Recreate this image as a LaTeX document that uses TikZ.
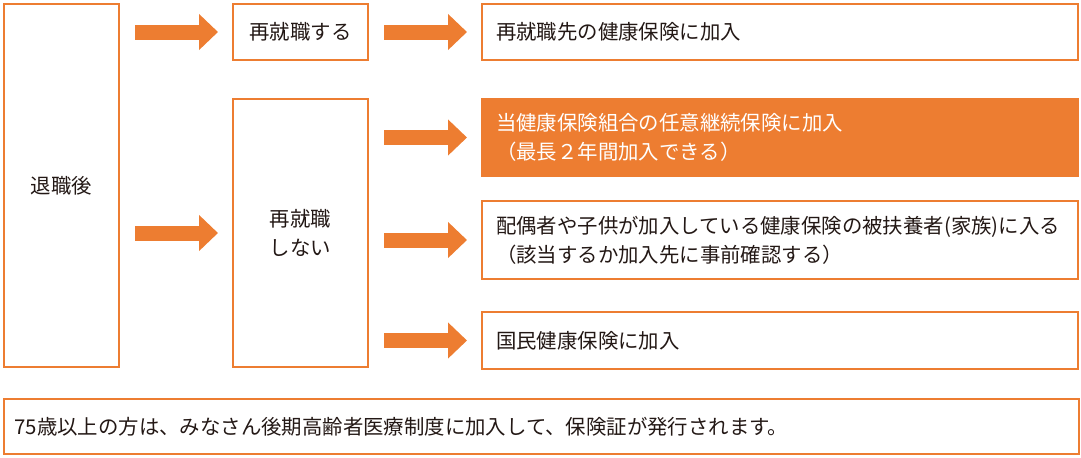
\documentclass[tikz,border=0pt]{standalone}
\usepackage{fontspec}
\setmainfont{Noto Sans CJK JP}
\usetikzlibrary{arrows.meta,positioning,calc}
\definecolor{orng}{RGB}{237,125,49}
\definecolor{txtgray}{RGB}{35,24,21}
\tikzset{
  obox/.style={draw=orng, line width=1pt, rectangle, inner sep=0pt, anchor=north west,
      text=txtgray, font=\fontsize{10.2pt}{14.5pt}\selectfont, align=center},
  rbox/.style={obox, minimum width=298pt, text width=284pt, align=left},
  hbox/.style={rbox, fill=orng, text=white},
  parr/.style={-{Triangle[length=9.5pt,width=17.5pt]}, line width=7.5pt, orng,
      shorten <=7.5pt, shorten >=7pt},
}
\begin{document}
\begin{tikzpicture}[x=0.5pt,y=-0.5pt]
  \useasboundingbox (0,0) rectangle (1081,457);
  % left column
  \node[obox, minimum width=57.5pt, minimum height=181.5pt] (ret) at (3,3) {退職後};
  \node[obox, minimum width=67.5pt, minimum height=28pt] (work) at (232,3) {再就職する};
  \node[obox, minimum width=67.5pt, minimum height=134pt] (nowork) at (232,98)
    {再就職\\しない};
  % right column
  \node[rbox, minimum height=28pt] (newjob) at (481,3) {再就職先の健康保険に加入};
  \node[hbox, minimum height=38.5pt] (cont) at (481,98)
    {当健康保険組合の任意継続保険に加入\\（最長２年間加入できる）};
  \node[rbox, minimum height=39pt] (dep) at (481,200)
    {配偶者や子供が加入している健康保険の被扶養者(家族)に入る\\（該当するか加入先に事前確認する）};
  \node[rbox, minimum height=28.5pt] (natl) at (481,311) {国民健康保険に加入};
  % note
  \node[obox, minimum width=537.5pt, minimum height=27.5pt, align=left,
        text width=527pt] (note) at (3,398)
    {75歳以上の方は、みなさん後期高齢者医療制度に加入して、保険証が発行されます。};
  % arrows
  \draw[parr] (ret.east |- work.west) -- (work.west);
  \draw[parr] (ret.east |- nowork.west) -- (nowork.west);
  \draw[parr] (work.east) -- (newjob.west);
  \foreach \t in {cont,dep,natl}
    \draw[parr] (nowork.east |- \t.west) -- (\t.west);
\end{tikzpicture}
\end{document}
